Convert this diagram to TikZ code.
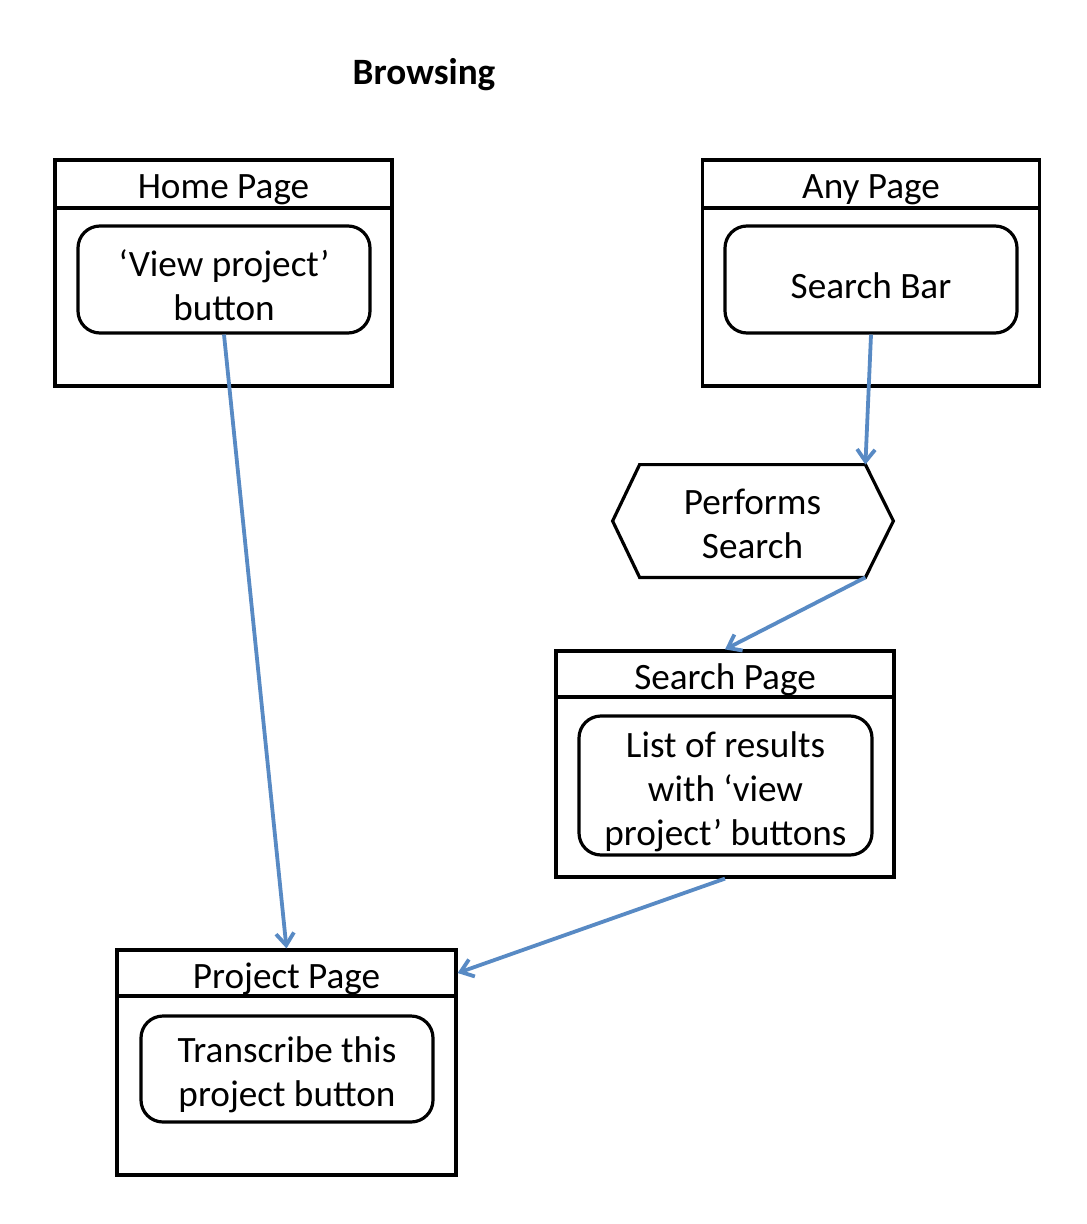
\documentclass[tikz,border=0pt]{standalone}
\usepackage{fontspec}
\setmainfont{Carlito}
\usepackage{tikz}
\usetikzlibrary{shapes.geometric, arrows.meta, calc}
\definecolor{linkblue}{RGB}{88,138,196}
\newcommand{\lowr}{\rule{0pt}{19pt}}
\tikzstyle{page} = [rectangle, draw=black, line width=1.6pt, minimum width=168.5pt, minimum height=113pt]
\tikzstyle{head} = [rectangle, draw=black, line width=1.6pt, minimum width=168.5pt, minimum height=24pt, anchor=north, inner sep=0pt, text height=15pt, text depth=0pt]
\tikzstyle{button} = [rectangle, rounded corners=11pt, draw=black, line width=1.6pt, minimum width=146pt, align=center, inner sep=0pt]
\tikzstyle{arrow} = [line width=1.9pt, linkblue, -{Straight Barb[length=6pt,width=9pt]}]

\begin{document}
\begin{tikzpicture}[x=0.5pt, y=-0.5pt, font=\fontsize{18.6}{22}\selectfont]
            \useasboundingbox (0,0) rectangle (1086,1224);
            \node(title)[text height=15pt, text depth=0pt] at (424,70) {\textbf{Browsing}};
            \node(homepage)[page] at (223.5,273) {};
            \node(homehead)[head] at (homepage.north) {Home Page};
            \node(homebtn)[button, minimum height=53.5pt] at (224,279.5) {\lowr‘View project’\\button};
            \node(anypage)[page] at (871,273) {};
            \node(anyhead)[head] at (anypage.north) {Any Page};
            \node(searchbar)[button, minimum height=53.5pt] at (871,279.5) {\lowr Search Bar};
            \node(perform)[rectangle, minimum width=112.5pt, minimum height=56pt, align=center, inner sep=0pt] at (752.5,521) {\rule{0pt}{16pt}Performs\\Search};
            \draw[line width=1.6pt] (perform.north west) -- (perform.north east) -- ($(perform.east)+(28,0)$) -- (perform.south east) -- (perform.south west) -- ($(perform.west)+(-27,0)$) -- cycle;
            \node(searchpage)[page, minimum width=169pt] at (725,764) {};
            \node(searchhead)[head, minimum width=169pt, minimum height=23pt] at (searchpage.north) {Search Page};
            \node(results)[button, minimum width=146.5pt, minimum height=69.5pt] at (725.5,785.5) {\lowr List of results\\with ‘view\\project’ buttons};
            \node(project)[page, minimum width=169.5pt, minimum height=112.5pt] at (286.5,1062.5) {};
            \node(projecthead)[head, minimum width=169.5pt, minimum height=23pt] at (project.north) {Project Page};
            \node(transcribe)[button, minimum height=53pt] at (287,1069) {\lowr Transcribe this\\project button};
            \draw[arrow](homebtn.south)--(project.north);
            \draw[arrow](searchbar.south)--(perform.north east);
            \draw[arrow](perform.south east)--(searchpage.north);
            \draw[arrow](searchpage.south)--(projecthead.east);
        \end{tikzpicture}
\end{document}
